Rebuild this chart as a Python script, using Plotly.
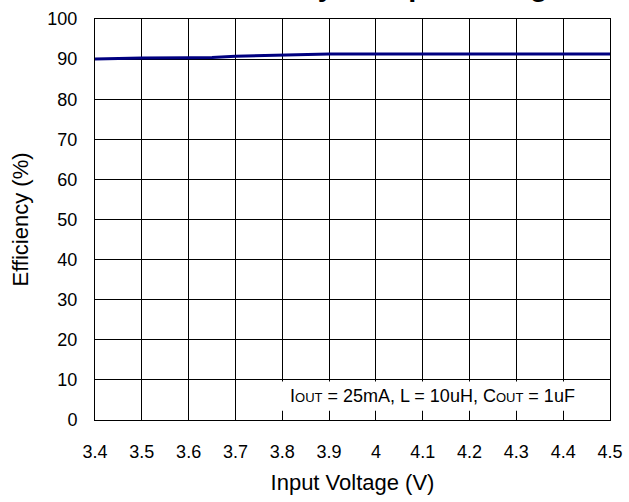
import plotly.graph_objects as go

vin = [3.4, 3.5, 3.6, 3.65, 3.7, 3.8, 3.9, 4.0, 4.1, 4.2, 4.3, 4.4, 4.5]
eff = [90.0, 90.3, 90.35, 90.4, 90.7, 91.0, 91.25, 91.3, 91.3, 91.3, 91.3, 91.3, 91.3]

x_ticks = [3.4, 3.5, 3.6, 3.7, 3.8, 3.9, 4.0, 4.1, 4.2, 4.3, 4.4, 4.5]
x_labels = ["3.4", "3.5", "3.6", "3.7", "3.8", "3.9", "4", "4.1", "4.2", "4.3", "4.4", "4.5"]
y_ticks = [0, 10, 20, 30, 40, 50, 60, 70, 80, 90, 100]

title_text = "Efficiency vs Input Voltage"
note_text = ('I<span style="font-size:13px">OUT</span> = 25mA, L = 10uH, '
             'C<span style="font-size:13px">OUT</span> = 1uF')

FONT = "Liberation Sans, Arial, sans-serif"

fig = go.Figure()
fig.add_trace(go.Scatter(x=vin, y=eff, mode="lines",
                         line=dict(color="#000080", width=3), showlegend=False,
                         hoverinfo="skip"))

fig.update_layout(
    width=629, height=502,
    margin=dict(l=95, r=19, t=19, b=82, autoexpand=False),
    paper_bgcolor="white", plot_bgcolor="white",
    font=dict(family=FONT, size=18, color="black"),
    xaxis=dict(range=[3.4, 4.5], tickvals=x_ticks, ticktext=x_labels,
               showgrid=True, gridcolor="black", gridwidth=1,
               showline=True, linecolor="black", linewidth=1, mirror=True,
               ticks="", ticklabelstandoff=15, zeroline=False, automargin=False,
               title=dict(text="Input Voltage (V)", font=dict(size=22), standoff=14)),
    yaxis=dict(range=[0, 100], tickvals=y_ticks,
               showgrid=True, gridcolor="black", gridwidth=1,
               showline=True, linecolor="black", linewidth=1, mirror=True,
               ticks="", ticklabelstandoff=13, zeroline=False, automargin=False,
               title=dict(text="Efficiency (%)", font=dict(size=22), standoff=12)),
)

fig.add_shape(type="rect", xref="x", yref="y", x0=3.702, x1=4.5, y0=2.3, y1=9.6,
              fillcolor="white", line=dict(width=0), layer="between")

fig.add_annotation(text=note_text, x=4.12, y=6.0, xref="x", yref="y",
                   showarrow=False, font=dict(size=18, family=FONT))

fig.add_annotation(text="<b>" + title_text + "</b>", xref="paper", yref="paper",
                   x=(380 - 95) / 515, y=1, yanchor="bottom", yshift=15,
                   showarrow=False, font=dict(size=29, family=FONT))

fig.write_html("out.html", config={"displayModeBar": False},
               post_script="document.body.style.margin='0';document.body.style.overflow='hidden';")
